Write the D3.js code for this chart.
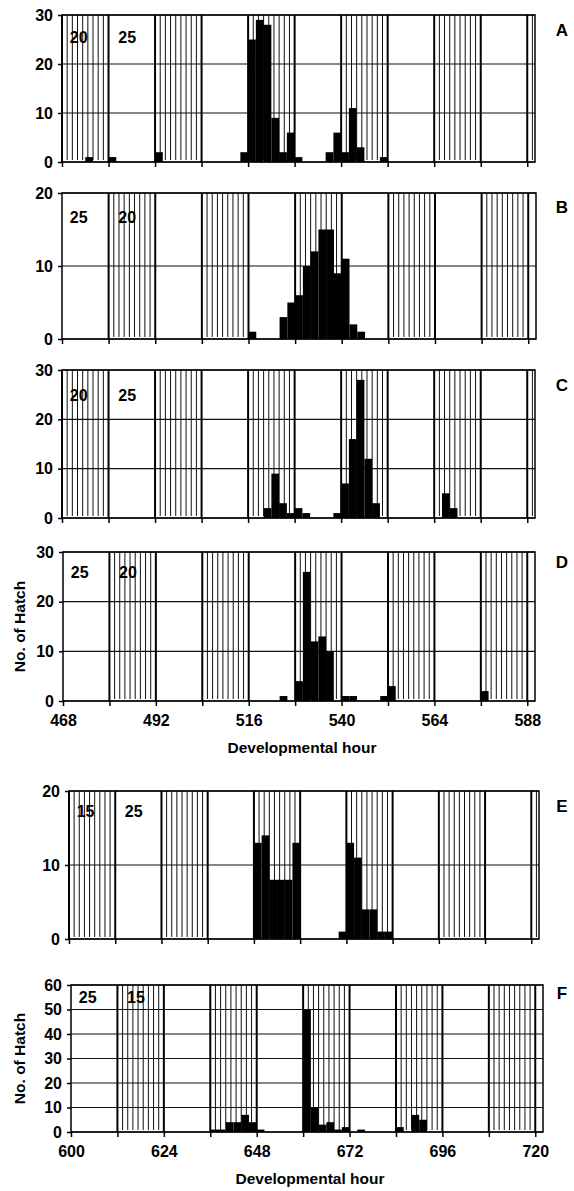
<!DOCTYPE html>
<html>
<head>
<meta charset="utf-8">
<script src="https://cdn.jsdelivr.net/npm/d3@7/dist/d3.min.js"></script>
<style>
  body { margin: 0; background: #fff; }
  svg text { font-family: "Liberation Sans", Arial, sans-serif; font-weight: bold; fill: #000; }
</style>
</head>
<body>
<svg id="chart" width="574" height="1191"></svg>
<script>
(function () {
  'use strict';

  // Hatch counts per 2-hour bin: [bin start hour, number hatched]
  var barsA = [[474,1],[480,1],[492,2],[514,2],[516,25],[518,29],[520,28],[522,9],[524,2],[526,6],[528,1],
               [536,2],[538,6],[540,2],[542,11],[544,3],[550,1]];
  var barsB = [[516,1],[524,3],[526,5],[528,6],[530,10],[532,12],[534,15],[536,15],[538,9],[540,11],[542,2],[544,1]];
  var barsC = [[520,2],[522,9],[524,3],[526,1],[528,2],[530,1],[538,1],[540,7],[542,16],[544,28],[546,12],[548,3],
               [566,5],[568,2]];
  var barsD = [[524,1],[528,4],[530,26],[532,12],[534,13],[536,10],[540,1],[542,1],[550,1],[552,3],[576,2]];
  var barsE = [[648,13],[650,14],[652,8],[654,8],[656,8],[658,13],[670,1],[672,13],[674,11],[676,4],[678,4],
               [680,1],[682,1]];
  var barsF = [[636,1],[638,1],[640,4],[642,4],[644,7],[646,4],[648,1],[660,50],[662,10],[664,3],[666,4],
               [668,1],[670,2],[674,1],[684,2],[688,7],[690,5]];

  // Start hours of the low-temperature (hatched) 12 h periods
  var coldA = [468, 492, 516, 540, 564, 588];
  var coldB = [480, 504, 528, 552, 576];
  var coldC = [468, 492, 516, 540, 564, 588];
  var coldD = [480, 504, 528, 552, 576];
  var coldE = [600, 624, 648, 672, 696, 720];
  var coldF = [612, 636, 660, 684, 708];

  // Temperature labels (first and second 12 h period)
  var tempA = ['20', '25'];
  var tempB = ['25', '20'];
  var tempC = ['20', '25'];
  var tempD = ['25', '20'];
  var tempE = ['15', '25'];
  var tempF = ['25', '15'];

  var yMaxes = { A: 30, B: 20, C: 30, D: 30, E: 20, F: 60 };

  var svg = d3.select('#chart');

  var panels = [
    { key: 'A', top: 15,  bottom: 162,  left: 62, right: 535, dom: [468, 590], bars: barsA, cold: coldA, temp: tempA, ty: 22, ly: 15 },
    { key: 'B', top: 193, bottom: 339,  left: 62, right: 536, dom: [468, 590], bars: barsB, cold: coldB, temp: tempB, ty: 24, ly: 14 },
    { key: 'C', top: 370, bottom: 518,  left: 62, right: 535, dom: [468, 590], bars: barsC, cold: coldC, temp: tempC, ty: 25, ly: 15 },
    { key: 'D', top: 552, bottom: 701,  left: 63, right: 535, dom: [468, 590], bars: barsD, cold: coldD, temp: tempD, ty: 20, ly: 10, axis: true },
    { key: 'E', top: 791, bottom: 939,  left: 69, right: 539, dom: [600, 722], bars: barsE, cold: coldE, temp: tempE, ty: 20, ly: 15 },
    { key: 'F', top: 985, bottom: 1132, left: 71, right: 543, dom: [600, 722], bars: barsF, cold: coldF, temp: tempF, ty: 12, ly: 8, axis: true }
  ];

  panels.forEach(function (p) {
    var x = d3.scaleLinear().domain(p.dom).range([p.left, p.right]);
    var y = d3.scaleLinear().domain([0, yMaxes[p.key]]).range([p.bottom, p.top]);
    var g = svg.append('g');
    var yTicks = d3.range(0, yMaxes[p.key] + 1, 10);

    // Hatched low-temperature bands
    p.cold.forEach(function (s) {
      var e = Math.min(s + 12, p.dom[1]);
      var inner = d3.range(1, 9).map(function (k) { return s + k * 12 / 9; })
        .filter(function (h) { return h < p.dom[1]; });
      g.selectAll(null).data(inner).join('line')
        .attr('x1', function (h) { return x(h); }).attr('x2', function (h) { return x(h); })
        .attr('y1', p.top).attr('y2', p.bottom - 2)
        .attr('stroke', '#111').attr('stroke-width', 1);
      g.selectAll(null).data([s, e].filter(function (h) { return h < p.dom[1]; })).join('line')
        .attr('x1', function (h) { return x(h); }).attr('x2', function (h) { return x(h); })
        .attr('y1', p.top).attr('y2', p.bottom)
        .attr('stroke', '#000').attr('stroke-width', 2);
    });

    // Horizontal gridlines
    g.selectAll(null).data(yTicks).join('line')
      .attr('x1', p.left).attr('x2', p.right)
      .attr('y1', function (v) { return y(v); }).attr('y2', function (v) { return y(v); })
      .attr('stroke', '#111').attr('stroke-width', 1.2);

    // Bars
    g.selectAll(null).data(p.bars).join('rect')
      .attr('x', function (d) { return x(d[0]); })
      .attr('width', function (d) { return x(d[0] + 2) - x(d[0]); })
      .attr('y', function (d) { return y(d[1]); })
      .attr('height', function (d) { return y(0) - y(d[1]); })
      .attr('fill', '#000');

    // Frame
    g.append('rect')
      .attr('x', p.left).attr('y', p.top)
      .attr('width', p.right - p.left).attr('height', p.bottom - p.top)
      .attr('fill', 'none').attr('stroke', '#000').attr('stroke-width', 1.5);

    // Y axis
    var yAxis = d3.axisLeft(y).tickValues(yTicks).tickSize(4).tickPadding(5).tickFormat(d3.format('d'));
    var ya = g.append('g').attr('transform', 'translate(' + p.left + ',0)').call(yAxis);
    ya.select('.domain').remove();
    ya.selectAll('line').attr('stroke', '#000').attr('stroke-width', 1.5);
    ya.selectAll('text').attr('font-size', 16).attr('font-family', '"Liberation Sans", Arial, sans-serif');

    // X axis: ticks every 12 h, labels every 24 h on the bottom panels
    var xTicks = d3.range(p.dom[0], p.dom[0] + 121, 12);
    var xAxis = d3.axisBottom(x).tickValues(xTicks).tickSize(5).tickPadding(9)
      .tickFormat(function (v) { return p.axis && (v - p.dom[0]) % 24 === 0 ? v : ''; });
    var xa = g.append('g').attr('transform', 'translate(0,' + p.bottom + ')').call(xAxis);
    xa.select('.domain').remove();
    xa.selectAll('line').attr('stroke', '#000').attr('stroke-width', 1.5);
    xa.selectAll('text').attr('font-size', 16).attr('font-family', '"Liberation Sans", Arial, sans-serif');

    // Temperature labels
    g.selectAll(null).data(p.temp).join('text')
      .attr('x', function (t, i) { return x(p.dom[0] + (i === 0 ? 4.3 : 16.8)); })
      .attr('y', p.top + p.ty)
      .attr('text-anchor', 'middle').attr('dominant-baseline', 'central')
      .attr('font-size', 16)
      .text(function (t) { return t; });

    // Panel letter
    g.append('text')
      .attr('x', 562).attr('y', p.top + p.ly)
      .attr('text-anchor', 'middle').attr('dominant-baseline', 'central')
      .attr('font-size', 17)
      .text(p.key);

    if (p.axis) {
      g.append('text')
        .attr('x', (p.left + p.right) / 2 + 3).attr('y', p.bottom + 46)
        .attr('text-anchor', 'middle').attr('dominant-baseline', 'central')
        .attr('font-size', 15.5)
        .text('Developmental hour');
      g.append('text')
        .attr('transform', 'translate(19,' + (p.top + p.bottom) / 2 + ') rotate(-90)')
        .attr('text-anchor', 'middle').attr('dominant-baseline', 'central')
        .attr('font-size', 15.5)
        .text('No. of Hatch');
    }
  });
})();
</script>
</body>
</html>
